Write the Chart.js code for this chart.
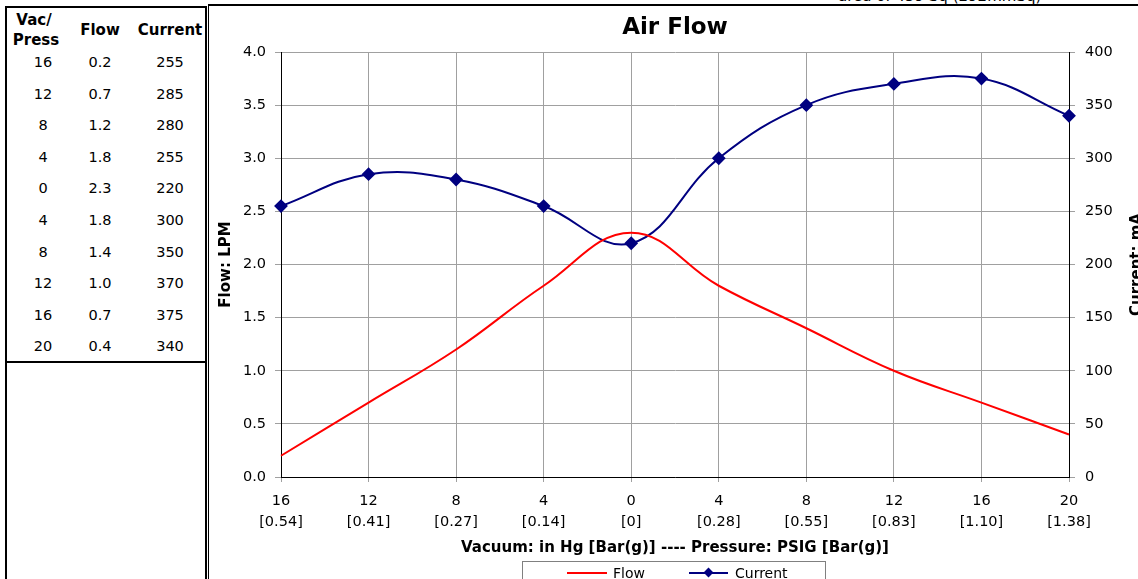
<!DOCTYPE html>
<html lang="en">
<head>
<meta charset="UTF-8">
<title>Air Flow</title>
<script src="https://cdn.jsdelivr.net/npm/chart.js"></script>
<style>
    body {
        margin: 0;
        width: 1138px;
        height: 579px;
        overflow: hidden;
        position: relative;
        background: #fff;
        font-family: "DejaVu Sans", Tahoma, sans-serif;
        color: #000;
    }
    .table-box {
        position: absolute;
        left: 5px;
        top: 6px;
        width: 198px;
        height: 620px;
        border-left: 2px solid #000;
        border-right: 2px solid #000;
        border-top: 2px solid #000;
    }
    .table-bottom {
        position: absolute;
        left: 0;
        top: 353px;
        width: 198px;
        border-top: 2px solid #000;
    }
    .cell {
        position: absolute;
        width: 70px;
        text-align: center;
        font-size: 14.5px;
        line-height: 18px;
    }
    .head {
        font-weight: bold;
        font-size: 15px;
    }
    .frame {
        position: absolute;
        left: 208px;
        top: 4px;
        width: 940px;
        height: 600px;
        border-left: 1px solid #000;
        border-top: 2px solid #000;
    }
    .chart-box {
        position: absolute;
        left: 210px;
        top: 7px;
        width: 945px;
        height: 572px;
    }
    .note {
        position: absolute;
        left: 838px;
        top: -13px;
        font-size: 15px;
        white-space: nowrap;
    }
    .legend {
        position: absolute;
        left: 522px;
        top: 561px;
        width: 302px;
        height: 30px;
        border: 1px solid #808080;
        font-size: 14px;
    }
    .legend-item {
        position: absolute;
        top: 2px;
        height: 18px;
        line-height: 18px;
    }
    .legend-line {
        position: absolute;
        top: 10px;
        width: 40px;
        height: 2px;
    }
    .legend-diamond {
        position: absolute;
        top: -3px;
        left: 16px;
        width: 7px;
        height: 7px;
        transform: rotate(45deg);
    }
</style>
</head>
<body>
<div class="note">area of 459 Sq (292mmSq)</div>
<div class="table-box" id="tableBox"><div class="table-bottom"></div></div>
<div class="frame"></div>
<div class="chart-box"><canvas id="airFlow"></canvas></div>
<div class="legend" id="legend"></div>
<script>
    const vacPress = ['16', '12', '8', '4', '0', '4', '8', '12', '16', '20'];
    const barG = ['0.54', '0.41', '0.27', '0.14', '0', '0.28', '0.55', '0.83', '1.10', '1.38'];
    const flow = [0.2, 0.7, 1.2, 1.8, 2.3, 1.8, 1.4, 1.0, 0.7, 0.4];
    const current = [255, 285, 280, 255, 220, 300, 350, 370, 375, 340];

    const chartTitle = 'Air Flow';
    const xTitle = 'Vacuum: in Hg [Bar(g)] ---- Pressure: PSIG [Bar(g)]';
    const leftTitle = 'Flow: LPM';
    const rightTitle = 'Current: mA';

    const flowColor = '#ff0000';
    const currentColor = '#000080';
    const FONT = '"DejaVu Sans", Tahoma, sans-serif';

    // data table on the left
    const box = document.getElementById('tableBox');
    function addCell(text, cx, cy, cls) {
        const d = document.createElement('div');
        d.className = 'cell' + (cls ? ' ' + cls : '');
        d.innerHTML = text;
        d.style.left = (cx - 35 - 7) + 'px';
        d.style.top = (cy - 9 - 8) + 'px';
        box.appendChild(d);
    }
    addCell('Vac/', 34, 20, 'head');
    addCell('Press', 36, 40, 'head');
    addCell('Flow', 100, 30, 'head');
    addCell('Current', 170, 30, 'head');
    for (let i = 0; i < vacPress.length; i++) {
        const y = 62 + i * 31.6;
        addCell(vacPress[i], 43, y);
        addCell(flow[i].toFixed(1), 100, y);
        addCell(String(current[i]), 170, y);
    }

    const labels = vacPress.map((v, i) => [v, '[' + barG[i] + ']']);

    // right axis title reads bottom-to-top like the left one
    const rightTitlePlugin = {
        id: 'rightTitle',
        afterDraw(chart) {
            const { ctx, chartArea } = chart;
            ctx.save();
            ctx.translate(chartArea.right + 68, (chartArea.top + chartArea.bottom) / 2);
            ctx.rotate(-Math.PI / 2);
            ctx.font = 'bold 15px ' + FONT;
            ctx.fillStyle = '#000';
            ctx.textAlign = 'center';
            ctx.textBaseline = 'middle';
            ctx.fillText(rightTitle, 0, 0);
            ctx.restore();
        }
    };

    const chart = new Chart(document.getElementById('airFlow'), {
        type: 'line',
        data: {
            labels: labels,
            datasets: [
                {
                    label: 'Flow',
                    data: flow,
                    yAxisID: 'y',
                    borderColor: flowColor,
                    backgroundColor: flowColor,
                    borderWidth: 2,
                    pointRadius: 0,
                    tension: 0.4
                },
                {
                    label: 'Current',
                    data: current,
                    yAxisID: 'y1',
                    borderColor: currentColor,
                    backgroundColor: currentColor,
                    borderWidth: 2,
                    pointStyle: 'rectRot',
                    pointRadius: 5.5,
                    tension: 0.4
                }
            ]
        },
        options: {
            responsive: true,
            maintainAspectRatio: false,
            animation: false,
            layout: { padding: 0 },
            plugins: {
                legend: { display: false },
                tooltip: { enabled: false },
                title: {
                    display: true,
                    text: chartTitle,
                    fullSize: false,
                    color: '#000',
                    font: { family: FONT, size: 23, weight: 'bold' },
                    padding: { top: 7, bottom: 10.4 }
                }
            },
            scales: {
                x: {
                    offset: false,
                    grid: { color: '#a0a0a0', offset: false, tickLength: 5 },
                    border: { color: '#000' },
                    ticks: {
                        color: '#000',
                        padding: 8,
                        maxRotation: 0,
                        autoSkip: false,
                        font: { family: FONT, size: 14.5, lineHeight: 1.5 }
                    },
                    title: {
                        display: true,
                        text: xTitle,
                        color: '#000',
                        font: { family: FONT, size: 15, weight: 'bold' },
                        padding: { bottom: 22 }
                    },
                    afterFit(s) { s.height = 102; }
                },
                y: {
                    position: 'left',
                    min: 0,
                    max: 4,
                    ticks: {
                        stepSize: 0.5,
                        color: '#000',
                        padding: 9,
                        font: { family: FONT, size: 14.5 },
                        callback: v => Number(v).toFixed(1)
                    },
                    grid: { color: '#a0a0a0', tickLength: 6 },
                    border: { color: '#000' },
                    title: {
                        display: true,
                        text: leftTitle,
                        color: '#000',
                        font: { family: FONT, size: 15, weight: 'bold' },
                        padding: { top: 7 }
                    },
                    afterFit(s) { s.width = 71; }
                },
                y1: {
                    position: 'right',
                    min: 0,
                    max: 400,
                    ticks: {
                        stepSize: 50,
                        color: '#000',
                        padding: 10,
                        font: { family: FONT, size: 14.5 }
                    },
                    grid: { drawOnChartArea: false, color: '#a0a0a0', tickLength: 6 },
                    border: { color: '#000' },
                    afterFit(s) { s.width = 86; }
                }
            }
        },
        plugins: [rightTitlePlugin]
    });

    // legend box at the bottom, built from the datasets
    const legend = document.getElementById('legend');
    const legendPos = [{ line: 44, text: 90 }, { line: 166, text: 212 }];
    chart.data.datasets.forEach((ds, i) => {
        const line = document.createElement('div');
        line.className = 'legend-line';
        line.style.left = legendPos[i].line + 'px';
        line.style.background = ds.borderColor;
        if (ds.pointStyle === 'rectRot') {
            const dia = document.createElement('div');
            dia.className = 'legend-diamond';
            dia.style.background = ds.borderColor;
            line.appendChild(dia);
            line.style.width = '39px';
        }
        legend.appendChild(line);
        const txt = document.createElement('div');
        txt.className = 'legend-item';
        txt.style.left = legendPos[i].text + 'px';
        txt.textContent = ds.label;
        legend.appendChild(txt);
    });
</script>
</body>
</html>
